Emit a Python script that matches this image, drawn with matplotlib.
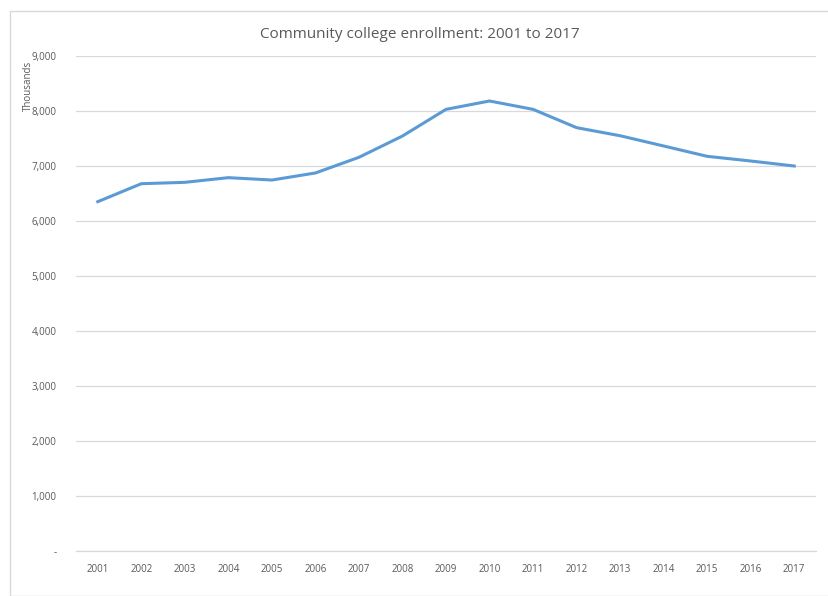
import matplotlib.pyplot as plt
from matplotlib.patches import Rectangle
from matplotlib.ticker import FuncFormatter

years = ["2001", "2002", "2003", "2004", "2005", "2006", "2007", "2008", "2009",
         "2010", "2011", "2012", "2013", "2014", "2015", "2016", "2017"]
enrollment = [6351, 6678, 6703, 6788, 6745, 6873, 7158, 7545, 8030,
              8182, 8030, 7697, 7550, 7364, 7176, 7091, 7000]

plt.rcParams['font.family'] = ['Open Sans', 'DejaVu Sans']
grey = '#595959'

fig = plt.figure(figsize=(8.29, 5.96), dpi=100)
ax = fig.add_axes([76 / 829, 1 - 551 / 596, (816 - 76) / 829, (551 - 56) / 596])

# chart border (Excel style)
fig.patches.append(Rectangle((10 / 829, 0), 1.2, 1 - 11 / 596, transform=fig.transFigure,
                             fill=False, edgecolor='#d9d9d9', linewidth=1))

x = range(len(years))
ax.plot(x, enrollment, color='#5b9bd5', linewidth=2.2, solid_joinstyle='round')

ax.set_xlim(-0.5, len(years) - 0.5)
ax.set_ylim(0, 9000)
ax.set_xticks(list(x))
ax.set_xticklabels(years)
ax.set_yticks(range(0, 9001, 1000))
ax.yaxis.set_major_formatter(FuncFormatter(lambda v, p: '-' if v == 0 else f'{int(v):,}'))

ax.grid(axis='y', color='#d9d9d9', linewidth=0.9)
ax.set_axisbelow(True)
for s in ['top', 'right', 'left']:
    ax.spines[s].set_visible(False)
ax.spines['bottom'].set_color('#d9d9d9')
ax.spines['bottom'].set_linewidth(0.9)
ax.tick_params(length=0, labelsize=7, labelcolor=grey)
ax.tick_params(axis='x', pad=9)
ax.tick_params(axis='y', pad=14)

# axis title sits at the top of the value axis, like Excel
fig.text(28 / 829, 1 - 86 / 596, 'Thousands', rotation=90, ha='center', va='center',
         fontsize=7, color=grey)
fig.text(420 / 829, 1 - 35 / 596, 'Community college enrollment: 2001 to 2017',
         ha='center', va='center', fontsize=11, color=grey)

fig.savefig('out.png', dpi=100)
